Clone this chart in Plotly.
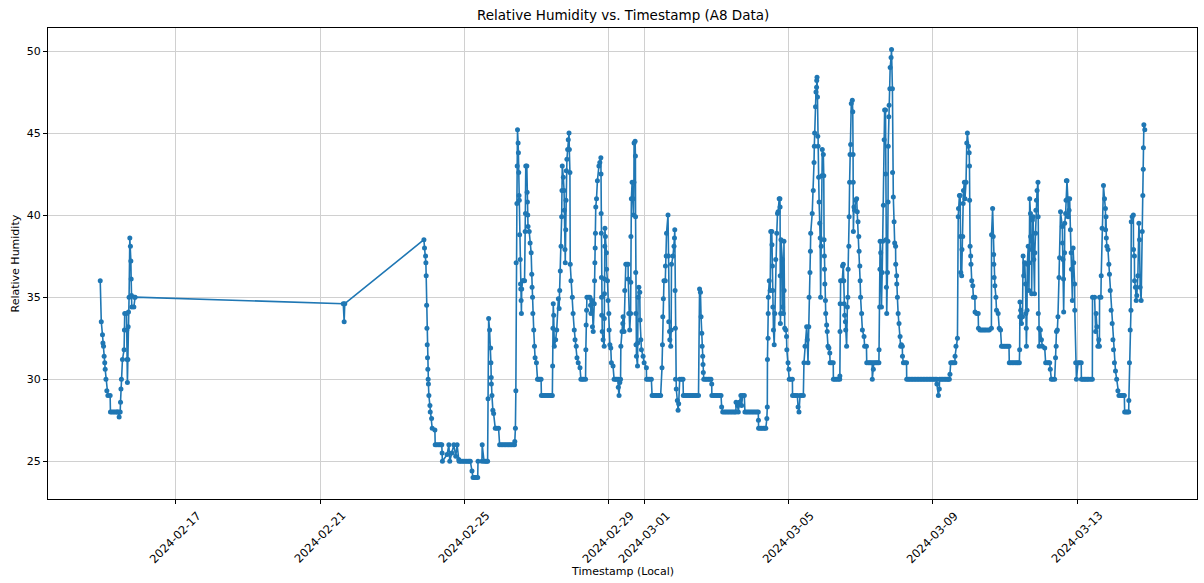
import pandas as pd
import plotly.graph_objects as go

# Logger A8: hours elapsed since 2024-02-14 00:00 and relative humidity (%)
START = pd.Timestamp("2024-02-14 00:00")

hours_feb14 = [
    21.6, 22.3, 23.1, 23.4, 23.8, 24.2, 24.6, 24.9, 25.4, 26.0,
    26.7, 28.2, 28.4, 33.7, 34.2, 34.9, 35.1, 35.4, 35.7, 36.4,
    37.5, 37.7, 37.9, 39.1, 39.3, 39.5, 39.7, 40.0, 40.2, 40.4,
    40.8, 41.3, 41.7, 42.0, 42.2, 42.4, 42.6, 44.0, 44.4, 44.8,
]
rh_feb14 = [
    36.0, 33.5, 32.7, 32.2, 32.0, 31.4, 31.0, 30.6, 30.0, 29.3,
    29.0, 29.0, 28.0, 28.0, 27.7, 28.0, 28.6, 29.4, 30.0, 31.2,
    31.8, 33.0, 34.0, 34.0, 33.0, 31.2, 29.8, 31.2, 33.2, 34.1,
    35.0, 38.6, 38.1, 37.2, 36.1, 35.1, 34.4, 34.4, 35.0, 35.0,
]

hours_feb21 = [
    183.4, 184.0, 184.4, 237.1, 237.5, 238.2, 238.4, 238.6, 238.9, 239.1,
    239.3, 239.5, 239.7, 239.9, 240.1, 240.4, 241.1, 241.3, 242.2, 242.6,
    244.4, 244.6, 249.0, 249.2, 249.4, 252.5, 253.7, 254.3, 255.7, 257.0,
    258.3, 259.2, 260.3, 260.5, 268.0, 269.1, 269.8, 272.9, 273.1, 275.7,
    275.9, 277.1, 279.5, 279.8, 280.2, 280.8, 281.5, 281.7, 281.9, 282.0,
    282.4, 283.0, 283.5, 284.6, 286.8, 287.5,
]
rh_feb21 = [
    34.6, 33.5, 34.6, 38.5, 38.0, 37.5, 37.1, 36.3, 34.5, 33.1,
    32.1, 31.3, 30.6, 30.0, 29.7, 29.0, 28.4, 28.0, 27.6, 27.0,
    26.9, 26.0, 26.0, 25.5, 25.0, 25.4, 26.0, 25.0, 25.5, 26.0,
    25.3, 26.0, 25.1, 25.0, 25.0, 24.4, 24.0, 24.0, 25.0, 25.0,
    26.0, 25.0, 25.0, 28.8, 33.7, 33.0, 31.9, 31.0, 30.1, 29.7,
    29.0, 28.1, 27.9, 27.0, 27.0, 26.0,
]

hours_feb26 = [
    297.4, 297.6, 298.0, 298.3, 298.5, 299.0, 299.2, 299.4, 299.8, 300.0,
    300.2, 300.4, 300.6, 300.8, 301.2, 301.4, 301.6, 301.8, 302.0, 302.2,
    302.7, 304.1, 304.5, 304.7, 304.9, 305.6, 305.8, 306.0, 306.2, 306.4,
    307.2, 307.8, 308.5, 308.9, 309.1, 309.4, 309.6, 310.2, 310.7, 311.1,
    312.0, 312.7, 315.1, 315.3, 322.6, 322.8, 323.0, 323.2, 323.5, 323.9,
    324.8, 325.5, 326.6, 327.1, 327.5, 327.9, 328.4, 328.8, 329.0, 329.2,
    329.9, 330.4, 330.6, 331.0, 331.2, 331.5, 331.7, 331.9, 332.3, 332.8,
    333.2, 333.7, 333.9, 334.3, 334.5, 335.0, 335.9, 336.4, 337.2, 337.7,
    338.5, 339.0, 339.8, 341.0, 341.6, 344.7, 344.9, 345.1, 345.4, 345.6,
    347.6, 348.0, 348.3, 349.1, 349.3, 349.8, 350.5, 350.7, 350.9, 351.1,
    351.3, 351.5, 352.0, 352.6, 353.6, 354.2, 354.9,
]
rh_feb26 = [
    26.0, 26.2, 27.0, 29.3, 37.1, 40.7, 43.0, 45.2, 44.4, 43.8,
    42.6, 41.2, 40.9, 38.8, 37.3, 35.8, 35.5, 34.8, 34.0, 35.5,
    36.0, 36.0, 39.0, 40.1, 43.0, 43.0, 41.4, 40.8, 40.0, 39.3,
    39.0, 38.3, 37.7, 36.4, 35.6, 35.0, 34.0, 33.0, 32.0, 31.3,
    31.0, 30.0, 30.0, 29.0, 29.0, 30.8, 33.1, 34.6, 33.9, 32.0,
    32.4, 33.0, 34.9, 34.3, 35.4, 36.6, 38.1, 39.9, 41.5, 43.0,
    42.3, 41.5, 40.3, 37.9, 37.1, 39.1, 40.9, 42.7, 43.4, 44.0,
    44.6, 45.0, 44.0, 42.6, 37.0, 36.0, 35.0, 34.0, 33.0, 32.4,
    32.0, 31.3, 31.0, 30.7, 30.0, 30.0, 31.8, 33.3, 34.2, 35.0,
    35.0, 34.5, 34.0, 34.8, 33.2, 32.9, 34.6, 36.0, 37.1, 38.0,
    38.9, 40.5, 41.0, 42.1, 43.0, 43.2, 43.5,
]

hours_feb29 = [
    355.0, 355.1, 355.2, 355.3, 355.4, 355.5, 355.8, 356.4, 357.1, 357.2,
    357.3, 357.4, 357.5, 357.6, 357.9, 358.6, 358.7, 359.3, 359.7, 360.2,
    360.4, 360.9, 361.5, 361.9, 363.0, 363.7, 366.4, 366.5, 367.0, 367.5,
    368.0, 368.2, 369.0, 369.5, 369.7, 370.3, 370.8, 371.5, 373.0, 373.1,
    373.5, 374.1, 374.7, 374.8, 374.9, 375.2, 375.7, 376.4, 376.6, 376.9,
    377.0, 377.7, 377.9, 378.0, 378.1, 378.2, 378.3, 378.6, 379.3, 379.4,
    379.7, 380.2, 380.8, 381.0, 381.5, 381.9, 383.0, 383.7, 385.2, 385.3,
    388.5, 389.0, 394.7,
]
rh_feb29 = [
    42.5, 40.1, 38.9, 36.2, 35.0, 33.9, 32.9, 32.4, 32.0, 33.7,
    35.2, 36.1, 38.1, 39.2, 38.7, 37.7, 36.7, 36.0, 34.8, 34.0,
    33.0, 32.1, 31.9, 31.0, 30.8, 30.0, 30.0, 29.5, 29.0, 29.8,
    30.0, 32.0, 32.9, 33.4, 33.8, 32.9, 35.4, 37.0, 37.0, 36.1,
    34.0, 33.0, 34.0, 35.9, 38.7, 41.0, 42.0, 41.0, 40.0, 42.0,
    44.4, 44.5, 43.6, 39.9, 36.5, 34.0, 32.1, 31.4, 30.8, 32.2,
    35.0, 35.6, 35.3, 33.6, 32.4, 31.8, 31.4, 31.0, 30.7, 30.0,
    30.0, 29.0, 29.0,
]

hours_mar01 = [
    395.6, 395.9, 396.1, 396.5, 396.9, 397.8, 397.9, 398.4, 398.6, 399.6,
    399.9, 400.1, 400.6, 400.8, 401.4, 401.7, 401.9, 402.9, 403.6, 403.9,
    404.1, 404.3, 404.5, 404.6, 405.1, 405.8, 406.3, 406.7, 407.4, 409.6,
    409.8, 419.9, 420.6, 421.2, 421.6, 422.1, 422.3, 422.7, 422.9, 423.1,
    423.4, 428.2, 428.7, 428.8, 434.9, 435.3, 436.0, 444.8, 444.9, 445.9,
    446.4, 447.1, 448.1, 448.6, 449.3, 450.4, 450.8, 459.7, 459.8, 459.9,
    464.7, 465.4, 465.7, 465.8, 466.2, 466.3, 466.4, 467.0, 467.6, 468.0,
    468.7, 468.8, 469.1, 469.3, 469.4, 469.8, 470.3, 470.7, 471.3, 472.0,
    472.5, 472.9, 473.6, 474.1, 474.2, 474.3, 474.4, 474.6, 474.8, 475.7,
    475.9, 476.4, 476.8, 476.9, 477.3, 478.0, 478.5, 478.7, 479.5, 480.1,
    480.3, 482.4, 482.5, 485.7, 486.2, 486.8, 487.5, 489.7,
]
rh_mar01 = [
    30.7, 32.1, 33.8, 34.9, 36.0, 36.0, 36.9, 37.5, 38.9, 40.0,
    37.5, 33.5, 32.9, 32.4, 32.0, 33.0, 37.0, 37.5, 38.1, 38.6,
    39.1, 35.4, 33.1, 30.0, 29.4, 28.7, 28.1, 28.5, 30.0, 30.0,
    29.0, 29.0, 35.5, 35.3, 33.8, 32.8, 32.0, 31.4, 30.9, 30.4,
    30.0, 30.0, 29.7, 29.0, 29.0, 28.3, 28.0, 28.0, 28.6, 28.4,
    28.0, 28.6, 29.0, 28.4, 29.0, 29.0, 28.0, 28.0, 27.5, 27.0,
    27.0, 27.6, 28.3, 31.2, 32.5, 34.0, 35.0, 36.0, 35.4, 39.0,
    39.0, 38.2, 36.9, 35.4, 34.4, 33.0, 32.1, 34.0, 37.3, 38.9,
    40.1, 40.2, 41.0, 41.0, 40.5, 36.3, 33.4, 34.0, 38.5, 37.3,
    34.4, 34.0, 38.4, 35.4, 33.1, 33.0, 32.6, 31.8, 31.0, 30.6,
    30.0, 30.0, 29.0, 29.0, 28.3, 28.0, 29.0, 29.0,
]

hours_mar05 = [
    490.1, 490.8, 491.9, 492.3, 492.8, 493.3, 493.5, 494.1, 494.4, 494.6,
    495.6, 496.3, 496.8, 497.0, 497.2, 497.8, 498.1, 498.5, 498.6, 498.8,
    499.1, 499.3, 499.5, 499.9, 500.2, 500.6, 500.9, 501.2, 501.6, 502.0,
    502.3, 503.0, 503.3, 503.5, 503.7, 503.8, 504.0, 504.4, 504.6, 505.2,
    505.6, 506.1, 506.7, 507.3, 507.5, 509.6, 509.7, 513.9, 514.0, 514.1,
    514.2, 514.5, 515.6, 515.8, 516.3, 516.6, 516.8, 517.2, 517.7, 517.9,
    518.5, 519.0, 519.3, 519.5, 520.0, 520.2, 520.5, 520.8, 521.2, 521.6,
    522.3, 522.6, 522.8, 522.9, 523.0, 523.4, 523.8, 524.5, 525.2, 525.6,
    526.1, 526.6, 526.8, 527.3, 527.5, 527.8, 528.5, 529.0, 530.1, 530.5,
    531.7, 531.9, 535.5, 535.6, 536.3, 536.6, 540.0, 540.1, 540.5, 540.7,
    540.8, 541.2, 541.7, 542.2, 542.5, 543.0, 543.5, 543.8, 544.4, 544.5,
    544.7, 545.0, 545.2, 545.7, 546.0, 546.1, 546.2, 546.6, 546.8, 547.3,
    547.5, 548.1, 548.4, 549.0, 549.1, 549.6, 550.1, 550.5, 551.1, 551.2,
    551.8, 551.9, 552.3, 552.8, 553.4, 554.1, 554.5, 555.0, 555.6, 555.7,
    556.3, 558.4, 558.5,
]
rh_mar05 = [
    31.0, 32.0, 33.2, 32.4, 31.0, 33.2, 35.0, 36.5, 37.8, 38.9,
    40.1, 41.5, 43.2, 44.2, 45.0, 46.6, 47.5, 47.8, 48.2, 48.4,
    47.2, 44.8, 44.2, 42.3, 40.8, 39.5, 38.6, 35.0, 38.1, 42.4,
    44.0, 43.7, 42.4, 38.5, 37.5, 36.7, 35.8, 34.8, 34.0, 33.3,
    32.9, 32.0, 31.9, 31.6, 31.0, 31.0, 30.0, 30.0, 30.2, 32.9,
    34.6, 36.0, 36.0, 36.9, 37.0, 36.0, 34.6, 33.9, 33.5, 33.0,
    32.0, 34.4, 35.0, 36.7, 38.1, 39.9, 42.0, 43.7, 44.3, 46.8,
    47.0, 46.3, 43.7, 42.0, 39.0, 40.5, 40.3, 40.9, 41.0, 40.2,
    39.6, 38.7, 37.8, 36.9, 36.0, 35.0, 34.0, 33.0, 32.6, 32.0,
    32.0, 31.0, 31.0, 30.0, 30.6, 31.0, 31.0, 31.8, 34.4, 36.7,
    38.4, 37.7, 34.4, 36.5, 38.4, 40.6, 44.6, 46.4, 46.4, 42.5,
    38.5, 35.6, 34.0, 36.5, 38.4, 40.8, 44.2, 46.0, 46.7, 47.7,
    49.0, 49.6, 50.1, 47.7, 42.6, 41.1, 39.6, 38.3, 38.1, 37.0,
    36.3, 35.8, 35.0, 34.0, 33.4, 32.6, 32.0, 32.1, 32.0, 31.4,
    31.0, 31.0, 30.0,
]

hours_mar09 = [
    578.5, 578.6, 579.6, 580.2, 580.4, 586.9, 587.3, 587.8, 590.6, 590.7,
    591.3, 592.3, 592.8, 593.0, 593.6, 594.1, 594.3, 594.5, 595.1, 595.3,
    595.8, 596.1, 596.3, 596.9, 597.3, 598.0, 598.5, 598.9, 599.6, 600.1,
    600.3, 600.4, 600.7, 601.1, 601.3, 601.8, 602.5, 602.9, 603.9, 604.0,
    605.1, 606.1, 606.3, 607.3, 613.5, 614.9, 615.0, 615.7, 616.1, 616.4,
    616.5, 616.7, 617.2, 617.9, 618.3, 619.4, 620.1, 621.0, 621.6, 626.6,
    626.8, 633.5, 633.7, 633.8, 633.9, 634.4, 634.9, 635.6, 636.0, 636.4,
    637.1, 637.6, 637.8, 638.1, 638.2, 638.6, 638.8, 639.4, 639.9, 640.1,
    640.4, 640.9, 641.0, 641.6, 641.7, 642.2, 642.7, 643.1, 643.6, 643.8,
    644.3, 644.5, 644.9, 645.3, 645.9, 646.0, 646.1, 646.5, 646.7, 647.5,
    648.2, 648.8, 650.4, 651.0, 653.7, 654.1, 654.8, 657.0, 657.6, 658.0,
    658.2, 658.8, 659.2, 659.9, 660.3, 660.9, 662.1, 662.2, 662.6, 662.9,
    663.0, 663.6, 663.7, 664.3, 664.6, 664.8, 665.2, 665.8, 666.0, 666.6,
    667.0, 667.5, 668.0, 668.2, 668.8, 669.3, 669.7, 670.3, 670.4, 671.0,
    671.5, 672.6, 674.7, 674.8, 682.1, 682.2, 683.6, 684.3, 684.6, 685.1,
    685.8, 686.4, 686.8, 686.9, 687.8, 688.0, 688.6, 689.5, 690.2, 690.8,
    690.9, 691.2, 691.4, 691.8, 692.5, 693.1, 693.5, 694.0, 694.6, 695.3,
    695.8, 696.2, 696.8, 697.5, 698.3, 699.1, 699.8, 703.4, 703.6, 706.3,
    706.4, 706.8, 707.3, 707.8, 708.0, 708.6, 709.4, 709.5, 710.1, 710.2,
    710.8, 711.3, 711.7, 712.4, 713.1, 713.5, 713.9, 714.6, 715.3, 715.7,
    716.0, 716.1, 716.4, 717.0,
]
rh_mar09 = [
    30.0, 29.7, 29.0, 29.4, 30.0, 30.0, 30.3, 31.0, 31.0, 31.4,
    32.0, 32.5, 39.9, 40.4, 41.2, 41.2, 38.7, 36.5, 36.3, 37.9,
    38.7, 40.7, 41.5, 42.0, 41.0, 42.0, 44.4, 45.0, 44.2, 43.8,
    43.0, 40.9, 38.1, 37.5, 37.0, 36.0, 35.7, 35.0, 35.0, 34.1,
    34.0, 34.0, 33.1, 33.0, 33.0, 33.1, 38.8, 40.4, 38.7, 37.6,
    37.0, 36.2, 35.7, 35.0, 34.2, 34.0, 33.1, 33.0, 32.0, 32.0,
    31.0, 31.0, 31.8, 33.8, 34.7, 34.2, 33.4, 33.8, 37.5, 36.3,
    37.1, 35.8, 34.0, 33.1, 32.0, 34.2, 37.0, 38.1, 35.4, 37.1,
    41.0, 40.1, 38.7, 37.9, 35.2, 39.7, 39.9, 37.3, 35.2, 37.7,
    38.9, 40.3, 40.9, 41.5, 42.0, 39.9, 34.0, 33.1, 32.0, 33.0,
    32.4, 32.0, 31.9, 31.0, 31.0, 30.6, 30.0, 30.0, 31.3, 32.0,
    32.9, 33.0, 33.8, 36.2, 37.4, 40.2, 39.3, 38.3, 37.3, 36.1,
    34.1, 37.7, 39.5, 40.1, 40.9, 42.1, 42.1, 41.0, 39.9, 40.3,
    41.0, 39.1, 37.7, 36.7, 34.8, 38.0, 37.1, 35.8, 34.2, 31.0,
    30.0, 31.0, 31.0, 30.0, 30.0, 35.0, 35.0, 32.9, 34.0, 33.2,
    32.0, 32.4, 32.0, 35.0, 35.0, 36.3, 39.2, 41.8, 41.0, 40.4,
    39.1, 39.9, 38.6, 38.1, 37.9, 37.0, 36.4, 35.4, 34.2, 33.4,
    32.4, 31.8, 31.0, 30.5, 30.0, 29.3, 29.0, 29.0, 28.0, 28.0,
    28.7, 31.0, 33.0, 34.2, 39.6, 39.9, 40.0, 37.9, 37.5, 36.0,
    35.6, 34.8, 35.1, 36.3, 39.5, 38.5, 35.6, 34.8, 39.0, 41.2,
    42.8, 44.1, 45.5, 45.2,
]

# Readings logged during stretches where the humidity held at one value
hours_steady = [
    29.4, 30.4, 31.4, 32.4, 33.0,
    245.6, 246.6, 247.6, 248.4,
    261.5, 262.5, 263.5, 264.5, 265.5, 266.5, 267.3,
    270.8, 271.8,
    278.0, 279.0,
    285.6,
    288.5, 289.5, 290.5, 291.5, 292.5, 293.5, 294.5, 295.5, 296.5,
    303.4,
    313.5, 314.3,
    316.3, 317.3, 318.3, 319.3, 320.3, 321.3, 322.0,
    342.5, 343.5,
    346.6,
    364.6, 365.5,
    372.3,
    386.3, 387.4,
    390.0, 391.0, 392.0, 393.0, 394.0,
    408.5,
    410.8, 411.8, 412.8, 413.8, 414.8, 415.8, 416.8, 417.8, 418.9,
    424.4, 425.4, 426.4, 427.3,
    429.8, 430.8, 431.8, 432.8, 433.9,
    437.0, 438.0, 439.0, 440.0, 441.0, 442.0, 443.0, 444.0,
    451.8, 452.8, 453.8, 454.8, 455.8, 456.8, 457.8, 458.8,
    460.9, 461.9, 462.9, 463.9,
    481.3,
    483.5, 484.6,
    488.6,
    508.5,
    510.7, 511.8, 512.9,
    532.9, 533.8, 534.6,
    537.5, 538.4, 539.2,
    557.4,
    559.5, 560.5, 561.5, 562.5, 563.5, 564.5, 565.5, 566.5, 567.5, 568.5,
    569.5, 570.5, 571.5, 572.5, 573.5, 574.5, 575.5, 576.5, 577.5,
    581.4, 582.4, 583.4, 584.4, 585.4, 586.2,
    588.7, 589.6,
    608.3, 609.3, 610.3, 611.3, 612.5,
    622.6, 623.6, 624.6, 625.6,
    627.8, 628.8, 629.8, 630.8, 631.8, 632.6,
    652.0, 653.0,
    655.8,
    673.6,
    675.8, 676.8, 677.8, 678.8, 679.8, 681.1,
    700.8, 701.8, 702.6,
    704.5, 705.4,
]
rh_steady = [
    28.0, 28.0, 28.0, 28.0, 28.0,
    26.0, 26.0, 26.0, 26.0,
    25.0, 25.0, 25.0, 25.0, 25.0, 25.0, 25.0,
    24.0, 24.0,
    25.0, 25.0,
    27.0,
    26.0, 26.0, 26.0, 26.0, 26.0, 26.0, 26.0, 26.0, 26.0,
    36.0,
    30.0, 30.0,
    29.0, 29.0, 29.0, 29.0, 29.0, 29.0, 29.0,
    30.0, 30.0,
    35.0,
    30.0, 30.0,
    37.0,
    30.0, 30.0,
    29.0, 29.0, 29.0, 29.0, 29.0,
    30.0,
    29.0, 29.0, 29.0, 29.0, 29.0, 29.0, 29.0, 29.0, 29.0,
    30.0, 30.0, 30.0, 30.0,
    29.0, 29.0, 29.0, 29.0, 29.0,
    28.0, 28.0, 28.0, 28.0, 28.0, 28.0, 28.0, 28.0,
    28.0, 28.0, 28.0, 28.0, 28.0, 28.0, 28.0, 28.0,
    27.0, 27.0, 27.0, 27.0,
    30.0,
    29.0, 29.0,
    29.0,
    31.0,
    30.0, 30.0, 30.0,
    31.0, 31.0, 31.0,
    31.0, 31.0, 31.0,
    31.0,
    30.0, 30.0, 30.0, 30.0, 30.0, 30.0, 30.0, 30.0, 30.0, 30.0,
    30.0, 30.0, 30.0, 30.0, 30.0, 30.0, 30.0, 30.0, 30.0,
    30.0, 30.0, 30.0, 30.0, 30.0, 30.0,
    31.0, 31.0,
    33.0, 33.0, 33.0, 33.0, 33.0,
    32.0, 32.0, 32.0, 32.0,
    31.0, 31.0, 31.0, 31.0, 31.0, 31.0,
    31.0, 31.0,
    30.0,
    31.0,
    30.0, 30.0, 30.0, 30.0, 30.0, 30.0,
    29.0, 29.0, 29.0,
    28.0, 28.0,
]

x_tick_dates = ["2024-02-17", "2024-02-21", "2024-02-25", "2024-02-29",
                "2024-03-01", "2024-03-05", "2024-03-09", "2024-03-13"]
y_ticks = [25, 30, 35, 40, 45, 50]

hours = (hours_feb14 + hours_feb21 + hours_feb26 + hours_feb29
         + hours_mar01 + hours_mar05 + hours_mar09 + hours_steady)
humidity = (rh_feb14 + rh_feb21 + rh_feb26 + rh_feb29
            + rh_mar01 + rh_mar05 + rh_mar09 + rh_steady)
assert len(hours) == len(humidity)

log = pd.DataFrame({"hours": hours, "rh": humidity})
log = log.sort_values("hours", kind="stable").reset_index(drop=True)
log["timestamp"] = START + pd.to_timedelta(log["hours"], unit="h")

# 5 % padding around the data, like matplotlib's default axis margins
t_min, t_max = log["timestamp"].min(), log["timestamp"].max()
t_pad = (t_max - t_min) * 0.05
y_min, y_max = log["rh"].min(), log["rh"].max()
y_pad = (y_max - y_min) * 0.05

FONT = "DejaVu Sans"
BLUE = "#1f77b4"
GRID = "#d0d0d0"

fig = go.Figure(
    go.Scatter(
        x=log["timestamp"],
        y=log["rh"],
        mode="lines+markers",
        line=dict(color=BLUE, width=1.6),
        marker=dict(color=BLUE, size=5),
        showlegend=False,
    )
)

axis_common = dict(
    showline=True, linecolor="black", linewidth=1, mirror=True,
    ticks="outside", ticklen=4, tickcolor="black", tickwidth=1,
    showgrid=True, gridcolor=GRID, gridwidth=1, zeroline=False,
)

fig.update_xaxes(
    type="date",
    range=[t_min - t_pad, t_max + t_pad],
    tickmode="array",
    tickvals=x_tick_dates,
    showticklabels=False,
    **axis_common,
)
fig.update_yaxes(
    range=[y_min - y_pad, y_max + y_pad],
    tickmode="array",
    tickvals=y_ticks,
    ticktext=[str(v) for v in y_ticks],
    tickfont=dict(family=FONT, size=11, color="black"),
    **axis_common,
)

annotations = []
# rotated date labels, centred under each tick
for d in x_tick_dates:
    annotations.append(dict(
        x=d, xref="x", y=0, yref="paper",
        text=d, showarrow=False, textangle=-45,
        xanchor="center", yanchor="top", yshift=-7,
        font=dict(family=FONT, size=11.5, color="black"),
    ))
annotations += [
    dict(text="Relative Humidity vs. Timestamp (A8 Data)",
         x=0.5, xref="paper", y=1, yref="paper",
         xanchor="center", yanchor="bottom", yshift=3, showarrow=False,
         font=dict(family=FONT, size=13.5, color="black")),
    dict(text="Timestamp (Local)",
         x=0.5, xref="paper", y=0, yref="paper",
         xanchor="center", yanchor="middle", yshift=-72, showarrow=False,
         font=dict(family=FONT, size=11, color="black")),
    dict(text="Relative Humidity",
         x=0, xref="paper", y=0.5, yref="paper", textangle=-90,
         xanchor="center", yanchor="middle", xshift=-33, showarrow=False,
         font=dict(family=FONT, size=11, color="black")),
]

fig.update_layout(
    width=1204, height=583,
    margin=dict(l=48, r=7, t=28, b=84),
    paper_bgcolor="white", plot_bgcolor="white",
    annotations=annotations,
    font=dict(family=FONT, color="black"),
)

fig.write_html("out.html")
